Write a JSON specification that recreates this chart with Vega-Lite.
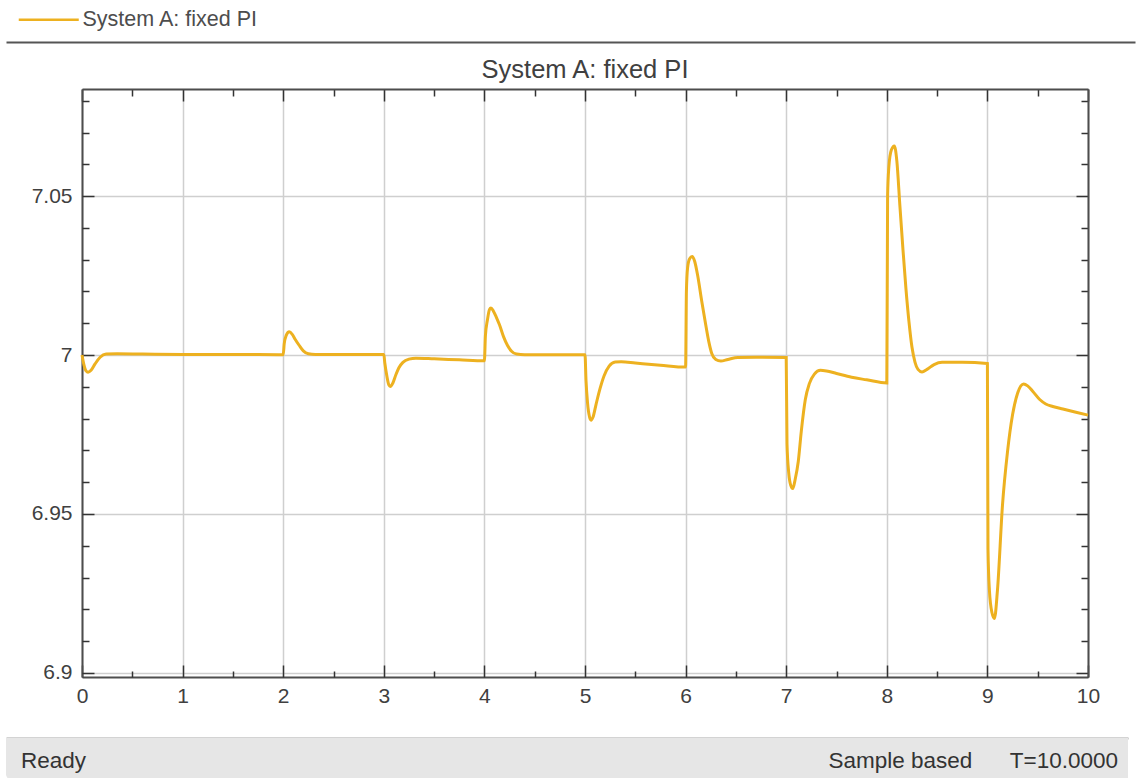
{
  "$schema": "https://vega.github.io/schema/vega-lite/v6.json",
  "padding": {"left": 6, "top": 0, "right": 0, "bottom": 0},
  "background": "white",
  "config": {"view": {"stroke": null}, "font": "Liberation Sans"},
  "datasets": {
    "signal": [
      {"t": 0, "v": 7.0000}, {"t": 0.02, "v": 6.9968}, {"t": 0.04, "v": 6.9950}, {"t": 0.06, "v": 6.9946},
      {"t": 0.09, "v": 6.9952}, {"t": 0.13, "v": 6.9972}, {"t": 0.18, "v": 6.9993}, {"t": 0.24, "v": 7.0003},
      {"t": 0.35, "v": 7.0004}, {"t": 0.6, "v": 7.0003}, {"t": 1.0, "v": 7.0002}, {"t": 1.5, "v": 7.0002},
      {"t": 2.0, "v": 7.0001}, {"t": 2.01, "v": 7.0035}, {"t": 2.03, "v": 7.0062}, {"t": 2.06, "v": 7.0073},
      {"t": 2.09, "v": 7.0065}, {"t": 2.12, "v": 7.0049}, {"t": 2.16, "v": 7.0030}, {"t": 2.20, "v": 7.0013},
      {"t": 2.25, "v": 7.0004}, {"t": 2.32, "v": 7.0002}, {"t": 2.6, "v": 7.0002}, {"t": 3.0, "v": 7.0002},
      {"t": 3.01, "v": 6.9975}, {"t": 3.03, "v": 6.9935}, {"t": 3.05, "v": 6.9906}, {"t": 3.065, "v": 6.9901},
      {"t": 3.09, "v": 6.9912}, {"t": 3.12, "v": 6.9938}, {"t": 3.15, "v": 6.9960}, {"t": 3.19, "v": 6.9977},
      {"t": 3.25, "v": 6.9987}, {"t": 3.32, "v": 6.9990}, {"t": 3.5, "v": 6.9988}, {"t": 3.75, "v": 6.9985},
      {"t": 4.0, "v": 6.9982}, {"t": 4.01, "v": 7.0060}, {"t": 4.03, "v": 7.0110}, {"t": 4.05, "v": 7.0143},
      {"t": 4.065, "v": 7.0148}, {"t": 4.09, "v": 7.0138}, {"t": 4.12, "v": 7.0118}, {"t": 4.15, "v": 7.0095},
      {"t": 4.19, "v": 7.0058}, {"t": 4.23, "v": 7.0030}, {"t": 4.27, "v": 7.0012}, {"t": 4.32, "v": 7.0003},
      {"t": 4.4, "v": 7.0001}, {"t": 4.7, "v": 7.0001}, {"t": 5.0, "v": 7.0001}, {"t": 5.01, "v": 6.9920},
      {"t": 5.025, "v": 6.9850}, {"t": 5.045, "v": 6.9805}, {"t": 5.06, "v": 6.9795}, {"t": 5.08, "v": 6.9805},
      {"t": 5.11, "v": 6.9845}, {"t": 5.15, "v": 6.9895}, {"t": 5.19, "v": 6.9935}, {"t": 5.24, "v": 6.9965},
      {"t": 5.30, "v": 6.9978}, {"t": 5.36, "v": 6.9979}, {"t": 5.5, "v": 6.9975}, {"t": 5.75, "v": 6.9968},
      {"t": 6.0, "v": 6.9962}, {"t": 6.008, "v": 7.0200}, {"t": 6.02, "v": 7.0275}, {"t": 6.04, "v": 7.0303},
      {"t": 6.065, "v": 7.0310}, {"t": 6.09, "v": 7.0295}, {"t": 6.12, "v": 7.0250}, {"t": 6.16, "v": 7.0170},
      {"t": 6.20, "v": 7.0095}, {"t": 6.23, "v": 7.0043}, {"t": 6.26, "v": 7.0005}, {"t": 6.30, "v": 6.9986},
      {"t": 6.35, "v": 6.9981}, {"t": 6.42, "v": 6.9986}, {"t": 6.52, "v": 6.9992}, {"t": 6.70, "v": 6.9993},
      {"t": 7.0, "v": 6.9992}, {"t": 7.008, "v": 6.9720}, {"t": 7.025, "v": 6.9630}, {"t": 7.045, "v": 6.9590},
      {"t": 7.065, "v": 6.9580}, {"t": 7.09, "v": 6.9610}, {"t": 7.12, "v": 6.9665}, {"t": 7.15, "v": 6.9760},
      {"t": 7.19, "v": 6.9860}, {"t": 7.23, "v": 6.9910}, {"t": 7.28, "v": 6.9940}, {"t": 7.34, "v": 6.9952},
      {"t": 7.40, "v": 6.9950}, {"t": 7.50, "v": 6.9942}, {"t": 7.65, "v": 6.9930}, {"t": 7.80, "v": 6.9922},
      {"t": 8.0, "v": 6.9912}, {"t": 8.008, "v": 7.0500}, {"t": 8.02, "v": 7.0590}, {"t": 8.045, "v": 7.0645},
      {"t": 8.075, "v": 7.0658}, {"t": 8.10, "v": 7.0610}, {"t": 8.13, "v": 7.0470}, {"t": 8.16, "v": 7.0335},
      {"t": 8.19, "v": 7.0210}, {"t": 8.22, "v": 7.0106}, {"t": 8.25, "v": 7.0025}, {"t": 8.28, "v": 6.9978},
      {"t": 8.31, "v": 6.9955}, {"t": 8.35, "v": 6.9947}, {"t": 8.40, "v": 6.9955}, {"t": 8.47, "v": 6.9970},
      {"t": 8.55, "v": 6.9977}, {"t": 8.75, "v": 6.9977}, {"t": 9.0, "v": 6.9973}, {"t": 9.006, "v": 6.9390},
      {"t": 9.02, "v": 6.9260}, {"t": 9.045, "v": 6.9190}, {"t": 9.07, "v": 6.9171}, {"t": 9.10, "v": 6.9260},
      {"t": 9.15, "v": 6.9528}, {"t": 9.20, "v": 6.9696}, {"t": 9.25, "v": 6.9812}, {"t": 9.30, "v": 6.9880},
      {"t": 9.36, "v": 6.9909}, {"t": 9.40, "v": 6.9903}, {"t": 9.45, "v": 6.9886}, {"t": 9.52, "v": 6.9860},
      {"t": 9.58, "v": 6.9846}, {"t": 9.65, "v": 6.9838}, {"t": 9.75, "v": 6.9830}, {"t": 9.88, "v": 6.9820},
      {"t": 10.0, "v": 6.9811}
    ]
  },
  "columns": 1,
  "align": "none",
  "spacing": {"row": 32, "column": 0},
  "concat": [
    {
      "columns": 1,
      "align": "none",
      "spacing": {"row": 15, "column": 0},
      "concat": [
        {
          "width": 1053,
          "height": 42,
          "data": {"values": [{"series": "System A: fixed PI", "p": 0.5}]},
          "mark": {"type": "line", "strokeWidth": 2.5, "strokeJoin": "round"},
          "encoding": {
            "x": {
              "field": "p", "type": "quantitative", "scale": {"domain": [0, 1], "range": [-76, 1053]},
              "axis": {"orient": "bottom", "domain": true, "domainColor": "#555555", "domainWidth": 2, "ticks": false, "labels": false, "grid": false, "title": null, "minExtent": 0}
            },
            "color": {
              "field": "series", "type": "nominal",
              "scale": {"domain": ["System A: fixed PI"], "range": ["#EDB120"]},
              "legend": {
                "orient": "none", "legendX": -44, "legendY": 9, "title": null,
                "symbolType": "M-6,0H6", "symbolSize": 100, "symbolStrokeWidth": 2.5,
                "symbolStrokeColor": "#EDB120", "symbolFillColor": "transparent",
                "labelFontSize": 21.5, "labelColor": "#4d4d4d", "labelOffset": 23, "labelLimit": 0,
                "labelFont": "Liberation Sans", "padding": 0
              }
            }
          }
        },
        {
          "width": 1006,
          "height": 588,
          "title": {"text": "System A: fixed PI", "fontSize": 25.5, "fontWeight": "normal", "color": "#404040", "font": "Liberation Sans", "offset": -15, "baseline": "alphabetic"},
          "data": {"name": "signal"},
          "layer": [
            {
              "mark": {"type": "line", "interpolate": "monotone", "color": "#EDB120", "strokeWidth": 3},
              "encoding": {
                "x": {
                  "field": "t", "type": "quantitative", "scale": {"domain": [0, 10], "nice": false, "zero": false},
                  "axis": {"orient": "bottom", "values": [0, 1, 2, 3, 4, 5, 6, 7, 8, 9, 10], "format": "d",
                    "labelFontSize": 21, "labelColor": "#404040", "labelPadding": 8, "labelFlush": false, "labelOverlap": false,
                    "ticks": false, "domain": true, "domainColor": "#4d4d4d", "domainWidth": 2, "minExtent": 0,
                    "grid": true, "gridColor": "#cfcfcf", "gridWidth": 1.5, "title": null}
                },
                "y": {
                  "field": "v", "type": "quantitative", "scale": {"domain": [6.8987, 7.0837], "nice": false, "zero": false},
                  "axis": {"orient": "left", "values": [6.9, 6.95, 7, 7.05], "format": "~g",
                    "labelFontSize": 21, "labelColor": "#404040", "labelPadding": 10, "labelFlush": false, "labelOverlap": false,
                    "minExtent": 76, "ticks": false, "domain": true, "domainColor": "#4d4d4d", "domainWidth": 2,
                    "grid": true, "gridColor": "#cfcfcf", "gridWidth": 1.5, "title": null}
                }
              }
            },
            {
              "mark": {"type": "line", "opacity": 0},
              "encoding": {
                "x": {
                  "field": "t", "type": "quantitative", "scale": {"domain": [0, 10], "nice": false, "zero": false},
                  "axis": {"orient": "bottom", "values": [0, 0.5, 1, 1.5, 2, 2.5, 3, 3.5, 4, 4.5, 5, 5.5, 6, 6.5, 7, 7.5, 8, 8.5, 9, 9.5, 10],
                    "labels": false, "domain": false, "grid": false, "title": null, "ticks": true, "minExtent": 0,
                    "tickColor": "#333333", "tickWidth": 1.5,
                    "tickSize": {"condition": {"test": "datum.value % 1 === 0", "value": -12}, "value": -6}}
                },
                "y": {
                  "field": "v", "type": "quantitative", "scale": {"domain": [6.8987, 7.0837], "nice": false, "zero": false},
                  "axis": {"orient": "left", "values": [6.9, 6.91, 6.92, 6.93, 6.94, 6.95, 6.96, 6.97, 6.98, 6.99, 7, 7.01, 7.02, 7.03, 7.04, 7.05, 7.06, 7.07, 7.08],
                    "labels": false, "domain": false, "grid": false, "title": null, "ticks": true, "minExtent": 0,
                    "tickColor": "#333333", "tickWidth": 1.5,
                    "tickSize": {"condition": {"test": "abs(datum.value * 20 - round(datum.value * 20)) < 0.001", "value": -12}, "value": -7}}
                }
              }
            },
            {
              "mark": {"type": "line", "opacity": 0},
              "encoding": {
                "x": {
                  "field": "t", "type": "quantitative", "scale": {"domain": [0, 10], "nice": false, "zero": false},
                  "axis": {"orient": "top", "values": [0, 0.5, 1, 1.5, 2, 2.5, 3, 3.5, 4, 4.5, 5, 5.5, 6, 6.5, 7, 7.5, 8, 8.5, 9, 9.5, 10],
                    "labels": false, "domain": true, "domainColor": "#4d4d4d", "domainWidth": 2, "grid": false, "title": null, "ticks": true, "minExtent": 0,
                    "tickColor": "#333333", "tickWidth": 1.5,
                    "tickSize": {"condition": {"test": "datum.value % 1 === 0", "value": -12}, "value": -7}}
                },
                "y": {
                  "field": "v", "type": "quantitative", "scale": {"domain": [6.8987, 7.0837], "nice": false, "zero": false},
                  "axis": {"orient": "right", "values": [6.9, 6.91, 6.92, 6.93, 6.94, 6.95, 6.96, 6.97, 6.98, 6.99, 7, 7.01, 7.02, 7.03, 7.04, 7.05, 7.06, 7.07, 7.08],
                    "labels": false, "domain": true, "domainColor": "#4d4d4d", "domainWidth": 2, "grid": false, "title": null, "ticks": true, "minExtent": 0,
                    "tickColor": "#333333", "tickWidth": 1.5,
                    "tickSize": {"condition": {"test": "abs(datum.value * 20 - round(datum.value * 20)) < 0.001", "value": -12}, "value": -7}}
                }
              }
            }
          ],
          "resolve": {"axis": {"x": "independent", "y": "independent"}}
        }
      ]
    },
    {
      "width": 1046,
      "height": 42,
      "layer": [
        {
          "data": {"values": [{"a": 0, "b": 1}]},
          "mark": {"type": "rect", "color": "#e6e6e6", "cornerRadiusBottomLeft": 6},
          "encoding": {
            "x": {"field": "a", "type": "quantitative", "scale": {"domain": [0, 1], "range": [-76, 1046]},
              "axis": {"orient": "top", "domain": true, "domainColor": "#a8a8a8", "domainWidth": 2, "ticks": false, "labels": false, "grid": false, "title": null, "minExtent": 0}},
            "x2": {"field": "b"}
          }
        },
        {
          "data": {"values": [{"label": "Ready", "p": 0}, {"label": "Sample based\u00a0\u00a0\u00a0\u00a0\u00a0\u00a0T=10.0000", "p": 1}]},
          "transform": [{"filter": "datum.p == 0"}],
          "mark": {"type": "text", "align": "left", "baseline": "middle", "dx": 15, "dy": 2, "fontSize": 22.5, "color": "#333333", "font": "Liberation Sans"},
          "encoding": {
            "x": {"field": "p", "type": "quantitative", "scale": {"domain": [0, 1], "range": [-76, 1046]},
              "axis": {"orient": "top", "domain": true, "domainColor": "#a8a8a8", "domainWidth": 2, "ticks": false, "labels": false, "grid": false, "title": null, "minExtent": 0}},
            "text": {"field": "label"}
          }
        },
        {
          "data": {"values": [{"label": "Ready", "p": 0}, {"label": "Sample based\u00a0\u00a0\u00a0\u00a0\u00a0\u00a0T=10.0000", "p": 1}]},
          "transform": [{"filter": "datum.p == 1"}],
          "mark": {"type": "text", "align": "right", "baseline": "middle", "dx": -10, "dy": 2, "fontSize": 22.5, "color": "#333333", "font": "Liberation Sans"},
          "encoding": {
            "x": {"field": "p", "type": "quantitative", "scale": {"domain": [0, 1], "range": [-76, 1046]},
              "axis": {"orient": "top", "domain": true, "domainColor": "#a8a8a8", "domainWidth": 2, "ticks": false, "labels": false, "grid": false, "title": null, "minExtent": 0}},
            "text": {"field": "label"}
          }
        }
      ]
    }
  ]
}
